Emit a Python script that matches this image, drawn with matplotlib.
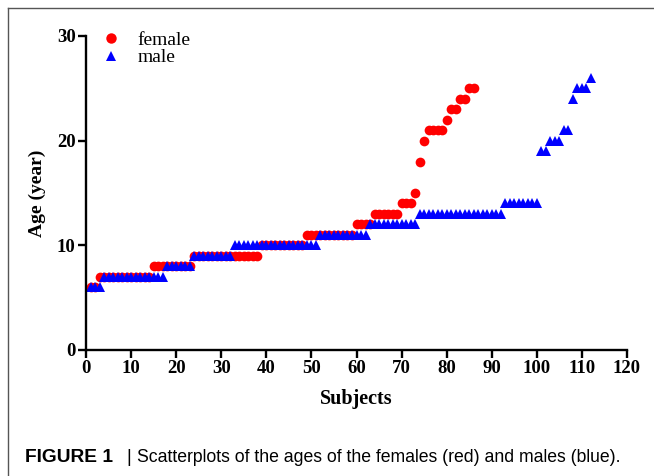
import numpy as np
import matplotlib
matplotlib.use("Agg")
import matplotlib.pyplot as plt
from matplotlib.lines import Line2D

# female ages (sorted) read as runs: age level and how many subjects sit on it
female_levels = [6, 7, 8, 9, 10, 11, 12, 13, 14, 15, 18, 20, 21, 22, 23, 24, 25]
female_counts = [2, 12, 9, 15, 10, 11, 4, 6, 3, 1, 1, 1, 4, 1, 2, 2, 2]

# male ages (sorted)
male_levels = [6, 7, 8, 9, 10, 11, 12, 13, 14, 19, 20, 21, 24, 25, 26]
male_counts = [3, 14, 6, 9, 19, 11, 11, 19, 8, 2, 3, 2, 1, 3, 1]

female_age = np.repeat(female_levels, female_counts)
male_age = np.repeat(male_levels, male_counts)
female_idx = np.arange(1, len(female_age) + 1)
male_idx = np.arange(1, len(male_age) + 1)

x_ticks = np.arange(0, 121, 10)
y_ticks = [0, 10, 20, 30]

serif = "Liberation Serif"

fig = plt.figure(figsize=(6.54, 4.76), dpi=100)
ax = fig.add_axes([86 / 654, 126 / 476, 541 / 654, 314 / 476])

ax.plot(female_idx, female_age, "o", color="#ff0000", ms=7, mew=0, label="female", clip_on=False)
ax.plot(male_idx, male_age, "^", color="#0000ff", ms=7.5, mew=0, label="male", clip_on=False)

ax.set_xlim(0, 120)
ax.set_ylim(0, 30)
ax.set_xticks(x_ticks)
ax.set_yticks(y_ticks)
for s in ["top", "right"]:
    ax.spines[s].set_visible(False)
for s in ["left", "bottom"]:
    ax.spines[s].set_linewidth(1.7)
ax.tick_params(width=1.7, length=6, direction="out", pad=1.5)
for lab in ax.get_xticklabels() + ax.get_yticklabels():
    lab.set_fontfamily(serif)
    lab.set_fontweight("bold")
    lab.set_fontsize(13.5)

ax.set_xlabel("Subjects", fontfamily=serif, fontweight="bold", fontsize=14.5, labelpad=8)
ax.set_ylabel("Age (year)", fontfamily=serif, fontweight="bold", fontsize=14, labelpad=8)

handles = [
    Line2D([], [], marker="o", ls="", color="#ff0000", ms=7.5, mew=0),
    Line2D([], [], marker="^", ls="", color="#0000ff", ms=7.5, mew=0),
]
ax.legend(handles, ["female", "male"], loc="upper left", bbox_to_anchor=(0.013, 1.04),
          frameon=False, prop={"family": serif, "size": 14},
          handletextpad=0.9, labelspacing=0.0, handlelength=1.0, borderaxespad=0)

# page frame around the figure panel
fig.add_artist(Line2D([8 / 654, 8 / 654], [0, 1 - 8 / 476], color="#555555", lw=1.0))
fig.add_artist(Line2D([8 / 654, 1], [1 - 8 / 476, 1 - 8 / 476], color="#555555", lw=1.0))

fig.text(25 / 654, 1 - 458 / 476, "FIGURE 1", fontfamily="Liberation Sans", fontweight="bold",
         fontsize=13.8, va="center", ha="left")
fig.text(126 / 654, 1 - 458 / 476, "|", fontfamily="Liberation Sans", fontsize=13,
         va="center", ha="left")
fig.text(137 / 654, 1 - 458 / 476, "Scatterplots of the ages of the females (red) and males (blue).",
         fontfamily="Liberation Sans", fontsize=12.7, va="center", ha="left")

fig.savefig("out.png", dpi=100)
